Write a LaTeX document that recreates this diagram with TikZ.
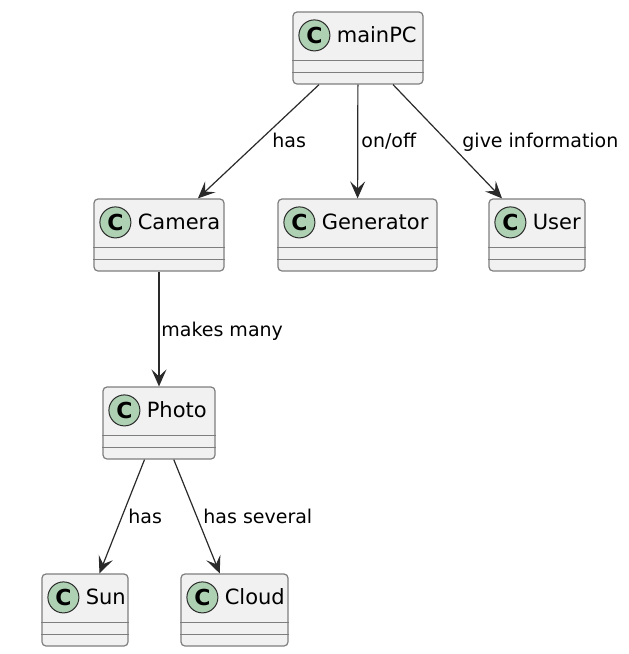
\documentclass[tikz,border=0pt]{standalone}
\usepackage{fontspec}
\setmainfont{DejaVu Sans}
\usetikzlibrary{calc, arrows.meta}
\definecolor{boxfill}{HTML}{F1F1F1}
\definecolor{boxline}{HTML}{7E7E7E}
\definecolor{spotfill}{HTML}{ADD1B2}
\definecolor{linkline}{HTML}{2A2A2A}

\begin{document}
\begin{tikzpicture}[x=0.5pt, y=-0.5pt,
	classbox/.style={draw=boxline, fill=boxfill, rounded corners=2pt, line width=0.6pt, minimum height=36pt, inner sep=0pt},
	spot/.style={circle, draw=linkline, fill=spotfill, line width=0.5pt, minimum size=15.5pt, inner sep=0pt, font=\bfseries\fontsize{11}{11}\selectfont},
	cname/.style={anchor=base west, inner sep=0pt, font=\fontsize{10.5}{12}\selectfont},
	rel/.style={draw=linkline, line width=0.6pt, -{Stealth[length=8.5pt, width=7.5pt, inset=3.5pt]}},
	rlabel/.style={anchor=base west, inner sep=0pt, font=\fontsize{9.5}{11}\selectfont}]
			\useasboundingbox (0,0) rectangle (628,654);
			
			\node (mainpc) [classbox, minimum width=65pt] at (358,48){};
			\node (camera) [classbox, minimum width=65pt] at (159,235){};
			\node (generator) [classbox, minimum width=79.5pt] at (357.5,235){};
			\node (user) [classbox, minimum width=48pt] at (537,235){};
			\node (photo) [classbox, minimum width=56pt] at (159,423){};
			\node (sun) [classbox, minimum width=43pt] at (85,610){};
			\node (cloud) [classbox, minimum width=53.5pt] at (234.5,610){};
			
			\foreach \c/\t in {mainpc/mainPC, camera/Camera, generator/Generator, user/User, photo/Photo, sun/Sun, cloud/Cloud}{
				\draw[boxline, line width=0.6pt] ($(\c.north west)!0.667!(\c.south west)$) -- ($(\c.north east)!0.667!(\c.south east)$);
				\draw[boxline, line width=0.6pt] ($(\c.north west)!0.833!(\c.south west)$) -- ($(\c.north east)!0.833!(\c.south east)$);
				\node[spot] (\c-spot) at ($(\c.north west)+(22,24)$){C};
				\node[cname] (\c-name) at ($(\c.north west)+(44,31)$){\t};
			}
			
			\draw[rel] (mainpc)--(camera);
			\draw[rel] (mainpc)--(generator);
			\draw[rel] (mainpc)--(user);
			\draw[rel] (camera)--(photo);
			\draw[rel] (photo)--(sun);
			\draw[rel] (photo)--(cloud);
			
			\node (l-has) [rlabel] at (272,147){has};
			\node (l-onoff) [rlabel] at (361,147){on/off};
			\node (l-info) [rlabel] at (462,147){give information};
			\node (l-many) [rlabel] at (161,336){makes many};
			\node (l-sun) [rlabel] at (128,523){has};
			\node (l-several) [rlabel] at (203,523){has several};
			
		\end{tikzpicture}
\end{document}
